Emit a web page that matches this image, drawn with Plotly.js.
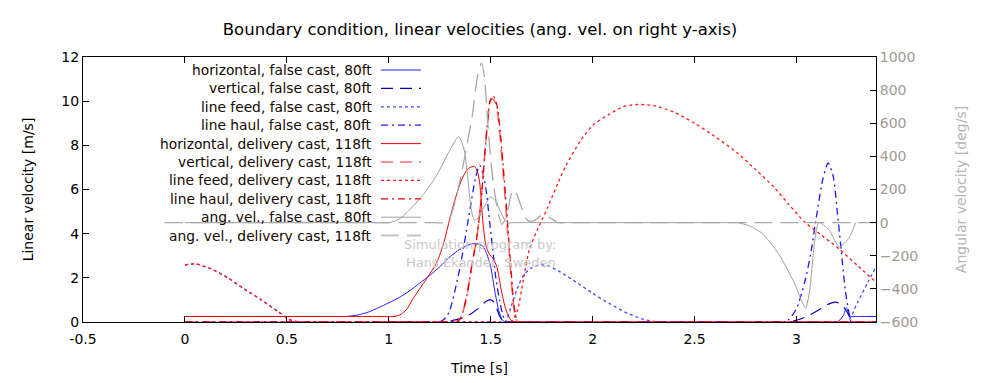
<!DOCTYPE html>
<html>
<head>
<meta charset="utf-8">
<script src="https://cdn.plot.ly/plotly-3.0.1.min.js"></script>
<style>html,body{margin:0;padding:0;background:#fff;}#chart{width:1000px;height:383px;}</style>
</head>
<body>
<div id="chart"></div>
<script>
// ---- data (time [s], value) ----
const hF_t = [0, 0.05, 0.74, 0.79, 0.85, 0.9, 0.95, 1.0, 1.05, 1.1, 1.15, 1.2, 1.25, 1.3, 1.35, 1.4, 1.43, 1.46, 1.48, 1.5, 1.52, 1.54, 1.56, 1.6, 1.65, 3.15, 3.2, 3.23, 3.245, 3.26, 3.27, 3.31, 3.39];
const hF_v = [0.25, 0.25, 0.25, 0.25, 0.32, 0.45, 0.65, 0.87, 1.1, 1.4, 1.75, 2.1, 2.5, 2.95, 3.3, 3.52, 3.55, 3.45, 3.1, 2.5, 1.4, 0.5, 0.05, 0, 0, 0, 0, 0.3, 0.65, 0.3, 0.25, 0.25, 0.25];

const vF_t = [0, 1.21, 1.25, 1.30, 1.35, 1.40, 1.43, 1.46, 1.48, 1.50, 1.515, 1.53, 1.545, 1.56, 1.58, 1.62, 2.91, 2.95, 3.0, 3.05, 3.1, 3.15, 3.19, 3.22, 3.245, 3.26, 3.275, 3.31, 3.39];
const vF_v = [0, 0, 0, 0.05, 0.15, 0.35, 0.55, 0.8, 0.95, 1.0, 0.9, 0.6, 0.25, 0.05, 0, 0, 0, 0, 0.08, 0.25, 0.5, 0.78, 0.9, 0.8, 0.5, 0.25, 0, 0, 0];

const lfF_t = [0, 0.05, 0.13, 0.21, 0.29, 0.375, 0.46, 0.51, 0.56, 0.6, 1.53, 1.57, 1.60, 1.63, 1.66, 1.70, 1.74, 1.78, 1.84, 1.92, 2.0, 2.08, 2.17, 2.25, 2.33, 2.38, 3.21, 3.25, 3.30, 3.35, 3.39];
const lfF_v = [2.58, 2.63, 2.4, 2.0, 1.5, 1.0, 0.45, 0.12, 0, 0, 0, 0, 0.7, 1.5, 2.1, 2.45, 2.58, 2.55, 2.27, 1.8, 1.3, 0.85, 0.4, 0.12, 0, 0, 0, 0, 0.9, 1.8, 2.5];

const lhF_t = [0, 1.21, 1.25, 1.28, 1.30, 1.35, 1.40, 1.425, 1.446, 1.465, 1.48, 1.495, 1.51, 1.525, 1.545, 1.56, 1.575, 1.62, 2.89, 2.93, 2.96, 3.0, 3.04, 3.07, 3.10, 3.13, 3.155, 3.18, 3.2, 3.22, 3.24, 3.26, 3.27, 3.31, 3.39];
const lhF_v = [0, 0, 0, 0.2, 0.55, 2.5, 5.2, 6.5, 7.1, 6.6, 5.8, 4.5, 3.3, 2.0, 0.9, 0.3, 0, 0, 0, 0, 0.1, 0.6, 1.8, 3.1, 4.9, 6.5, 7.2, 6.6, 5.0, 3.2, 1.4, 0.3, 0, 0, 0];

const hD_t = [0, 0.05, 0.98, 1.03, 1.06, 1.09, 1.115, 1.17, 1.234, 1.27, 1.30, 1.33, 1.36, 1.39, 1.42, 1.435, 1.446, 1.455, 1.463, 1.472, 1.48, 1.495, 1.51, 1.53, 1.545, 1.555, 1.57, 1.585, 1.60, 1.615, 1.66, 3.39];
const hD_v = [0.25, 0.25, 0.25, 0.25, 0.35, 0.6, 1.0, 1.75, 2.67, 3.6, 4.7, 5.7, 6.5, 6.95, 7.05, 6.8, 6.3, 5.3, 4.4, 3.7, 3.35, 3.05, 2.9, 2.5, 1.8, 1.3, 0.7, 0.3, 0.08, 0, 0, 0];

const vD_t = [0, 1.29, 1.33, 1.35, 1.362, 1.385, 1.41, 1.43, 1.446, 1.46, 1.47, 1.485, 1.496, 1.508, 1.52, 1.533, 1.546, 1.558, 1.571, 1.583, 1.596, 1.608, 1.618, 1.628, 1.64, 1.68, 3.39];
const vD_v = [0, 0, 0, 0.15, 0.4, 1.3, 2.7, 3.7, 4.9, 6.3, 7.5, 9.1, 9.9, 10.1, 10.0, 9.5, 8.4, 7.1, 5.6, 4.1, 2.5, 1.1, 0.4, 0.05, 0, 0, 0];

const lfD_t = [0, 0.05, 0.13, 0.21, 0.29, 0.375, 0.46, 0.51, 0.56, 0.6, 1.56, 1.60, 1.63, 1.66, 1.69, 1.73, 1.78, 1.83, 1.87, 1.94, 2.0, 2.08, 2.15, 2.22, 2.3, 2.4, 2.5, 2.6, 2.71, 2.8, 2.89, 2.96, 3.04, 3.12, 3.21, 3.3, 3.39];
const lfD_v = [2.58, 2.63, 2.4, 2.0, 1.5, 1.0, 0.45, 0.12, 0, 0, 0, 0, 0.5, 1.9, 3.3, 4.2, 5.2, 6.3, 7.1, 8.2, 8.9, 9.4, 9.75, 9.85, 9.8, 9.5, 9.0, 8.4, 7.65, 6.9, 6.1, 5.35, 4.53, 3.95, 3.3, 2.55, 1.8];

const lhD_t = [0, 1.29, 1.33, 1.35, 1.362, 1.385, 1.41, 1.43, 1.446, 1.46, 1.47, 1.485, 1.496, 1.51, 1.522, 1.535, 1.548, 1.56, 1.573, 1.585, 1.598, 1.61, 1.62, 1.63, 1.64, 1.68, 3.39];
const lhD_v = [0, 0, 0, 0.15, 0.4, 1.3, 2.7, 3.7, 4.9, 6.3, 7.5, 9.1, 10.0, 10.25, 10.1, 9.6, 8.5, 7.2, 5.7, 4.2, 2.6, 1.1, 0.4, 0.05, 0, 0, 0];

const avF_t = [0, 0.95, 1.0, 1.05, 1.115, 1.17, 1.23, 1.30, 1.343, 1.37, 1.39, 1.405, 1.42, 1.445, 1.47, 1.5, 1.525, 1.545, 1.58, 1.62, 2.67, 2.71, 2.77, 2.83, 2.91, 2.99, 3.03, 3.045, 3.065, 3.09, 3.11, 3.16, 3.21, 3.26, 3.29];
const avF_v = [0, 0, 0, 20, 94, 170, 275, 438, 520, 440, 240, 76, 16, 35, 100, 155, 130, 76, 0, 0, 0, 0, -20, -63, -185, -366, -487, -516, -406, -105, 0, -45, -147, -87, 0];

const avD_t = [-0.1, 1.23, 1.27, 1.30, 1.33, 1.36, 1.385, 1.41, 1.435, 1.455, 1.47, 1.48, 1.49, 1.50, 1.512, 1.525, 1.54, 1.555, 1.57, 1.585, 1.60, 1.61, 1.625, 1.65, 1.68, 1.71, 1.75, 1.79, 1.83, 1.87, 3.39];
const avD_v = [0, 0, 0, 30, 150, 317, 480, 650, 880, 965, 870, 700, 530, 378, 250, 137, 40, -10, 20, 80, 170, 196, 180, 94, 15, 10, 45, 30, 0, 0, 0];

const seriesNames = [
  'horizontal, false cast, 80ft', 'vertical, false cast, 80ft', 'line feed, false cast, 80ft', 'line haul, false cast, 80ft',
  'horizontal, delivery cast, 118ft', 'vertical, delivery cast, 118ft', 'line feed, delivery cast, 118ft', 'line haul, delivery cast, 118ft',
  'ang. vel., false cast, 80ft', 'ang. vel., delivery cast, 118ft'
];
const xTicks = [-0.5, 0, 0.5, 1, 1.5, 2, 2.5, 3];

// ---- styles ----
const DASH = '12px,7px', DOT = '3px,3px', DASHDOT = '7px,4px,2px,4px', LONG = '18px,8px';
const styles = [
  {t: hF_t, v: hF_v, color: '#1f1fff', width: 1, dash: 'solid', ax: 'y'},
  {t: vF_t, v: vF_v, color: '#0000c8', width: 1.2, dash: DASH, ax: 'y'},
  {t: lfF_t, v: lfF_v, color: '#4646ff', width: 1.3, dash: DOT, ax: 'y'},
  {t: lhF_t, v: lhF_v, color: '#1a1aff', width: 1.3, dash: DASHDOT, ax: 'y'},
  {t: hD_t, v: hD_v, color: '#ee0000', width: 1, dash: 'solid', ax: 'y'},
  {t: vD_t, v: vD_v, color: '#ff6a6a', width: 1.6, dash: DASH, ax: 'y'},
  {t: lfD_t, v: lfD_v, color: '#ff1a1a', width: 1.3, dash: DOT, ax: 'y'},
  {t: lhD_t, v: lhD_v, color: '#e80000', width: 1.3, dash: DASHDOT, ax: 'y'},
  {t: avF_t, v: avF_v, color: '#a0a0a0', width: 1, dash: 'solid', ax: 'y2'},
  {t: avD_t, v: avD_v, color: '#a8a8a8', width: 1.3, dash: LONG, ax: 'y2'}
];

const traces = styles.map((s, i) => ({
  x: s.t, y: s.v, type: 'scatter', mode: 'lines', name: seriesNames[i], yaxis: s.ax,
  line: {color: s.color, width: s.width, dash: s.dash, shape: 'spline', smoothing: 0.7},
  showlegend: false, hoverinfo: 'skip'
}));

// ---- manual gnuplot-style key (text right-aligned, sample to its right) ----
const FONT = 'DejaVu Sans, Verdana, sans-serif';
const L = 83, R = 876, T = 57, B = 322;
const px2x = px => (px - L) / (R - L);
const py2y = py => (B - py) / (B - T);
const annotations = [];
const shapes = [];
seriesNames.forEach((n, i) => {
  const py = 70 + i * 18.4;
  annotations.push({xref: 'paper', yref: 'paper', x: px2x(374), y: py2y(py), xanchor: 'right', yanchor: 'middle',
    text: n, showarrow: false, font: {family: FONT, size: 13.8, color: '#140800'}});
  const s = styles[i];
  shapes.push({type: 'line', xref: 'paper', yref: 'paper', x0: px2x(381), x1: px2x(421), y0: py2y(py), y1: py2y(py),
    line: {color: i === 9 ? '#c4c4c4' : s.color, width: i === 9 ? 2 : s.width, dash: s.dash}});
});
annotations.push({xref: 'paper', yref: 'paper', x: px2x(480), y: py2y(244), xanchor: 'center', yanchor: 'middle',
  text: 'Simulation program by:', showarrow: false, font: {family: FONT, size: 13, color: '#c8c8c8'}});
annotations.push({xref: 'paper', yref: 'paper', x: px2x(481), y: py2y(262), xanchor: 'center', yanchor: 'middle',
  text: 'Hans Ekander, Sweden', showarrow: false, font: {family: FONT, size: 13, color: '#c8c8c8'}});

const layout = {
  width: 1000, height: 383,
  margin: {l: L, r: 1000 - R, t: T, b: 383 - B, pad: 0},
  paper_bgcolor: '#fff', plot_bgcolor: '#fff',
  font: {family: FONT, size: 14, color: '#000'},
  title: {text: 'Boundary condition, linear velocities (ang. vel. on right y-axis)', x: 0.48, xanchor: 'center', y: 0.925, yanchor: 'middle',
    font: {family: FONT, size: 16.5, color: '#000'}},
  showlegend: false,
  xaxis: {range: [-0.5, 3.39], tickvals: xTicks, ticktext: xTicks.map(String), ticks: 'inside', ticklen: 6, tickcolor: '#000',
    showline: true, linecolor: '#000', linewidth: 1, mirror: 'ticks', showgrid: false, zeroline: false, ticklabelstandoff: 4,
    tickfont: {size: 14}, title: {text: 'Time [s]', standoff: 17, font: {size: 14}}, automargin: false},
  yaxis: {range: [0, 12], dtick: 2, ticks: 'inside', ticklen: 6, tickcolor: '#000', showline: true, linecolor: '#000', linewidth: 1,
    mirror: true, showgrid: false, zeroline: false, tickfont: {size: 14},
    title: {text: 'Linear velocity [m/s]', standoff: 24, font: {size: 14}}, automargin: false},
  yaxis2: {range: [-600, 1000], dtick: 200, overlaying: 'y', side: 'right', ticks: 'inside', ticklen: 6, tickcolor: '#000',
    showline: true, linecolor: '#000', showgrid: false, zeroline: false, tickfont: {size: 14, color: '#a09a94'},
    title: {text: 'Angular velocity [deg/s]', standoff: 38, font: {size: 14, color: '#b4b4b4'}}, automargin: false},
  annotations: annotations,
  shapes: shapes
};

Plotly.newPlot('chart', traces, layout, {displayModeBar: false, staticPlot: true});
</script>
</body>
</html>
